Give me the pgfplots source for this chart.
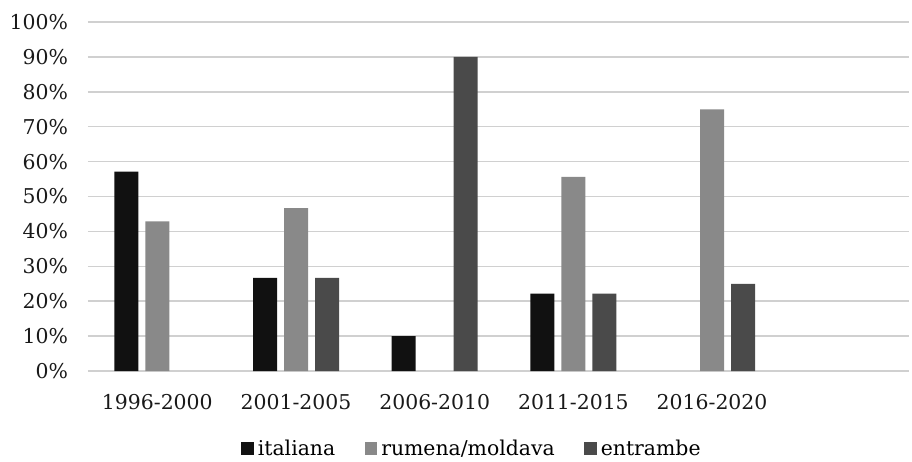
\documentclass[border=0pt]{standalone}
\usepackage{fontspec}
\setmainfont{DejaVu Serif}
\usepackage{pgfplots}
\pgfplotsset{compat=1.18}

\definecolor{cIta}{HTML}{111111}
\definecolor{cRum}{HTML}{898989}
\definecolor{cEnt}{HTML}{4A4A4A}
\definecolor{gridgray}{HTML}{D0D0D0}

\begin{document}
\begin{tikzpicture}
\begin{axis}[
  name=ax,
  scale only axis,
  width=615.75pt, height=261.75pt,
  ybar=5.25pt, bar width=18pt,
  xmin=-0.5, xmax=5.42,
  ymin=0, ymax=100,
  xtick={0,1,2,3,4},
  xticklabels={1996-2000,2001-2005,2006-2010,2011-2015,2016-2020},
  ytick={0,10,...,100},
  yticklabel={\pgfmathprintnumber{\tick}\%},
  /pgf/number format/assume math mode=true,
  ymajorgrids,
  grid style={line width=1.1pt, color=gridgray},
  axis line style={draw=none},
  major tick length=0pt,
  tick style={draw=none},
  tick label style={font=\fontsize{15.3}{18}\selectfont, color=black!90},
  yticklabel style={xshift=-11.5pt},
  xticklabel style={yshift=-14pt},
  legend style={
    at={(0.468,0)}, anchor=center, yshift=-58.5pt,
    draw=none, fill=none,
    font=\fontsize{15.3}{18}\selectfont,
    legend columns=3,
    /tikz/every even column/.append style={column sep=20pt},
    /tikz/every odd column/.append style={column sep=1pt},
  },
  legend image code/.code={\fill[#1] (0pt,-4.5pt) rectangle (9.5pt,5pt);},
]
\addplot[fill=cIta, draw=none] coordinates {(0,57.1) (1,26.7) (2,10) (3,22.2)};
\addplot[fill=cRum, draw=none] coordinates {(0,42.9) (1,46.7) (3,55.6) (4,75)};
\addplot[fill=cEnt, draw=none] coordinates {(1,26.7) (2,90) (3,22.2) (4,25)};
\legend{italiana, rumena/moldava, entrambe}
\end{axis}
\pgfresetboundingbox
\path (ax.south west) ++(-66pt,-67.5pt) rectangle ++(684pt,345.75pt);
\end{tikzpicture}
\end{document}
